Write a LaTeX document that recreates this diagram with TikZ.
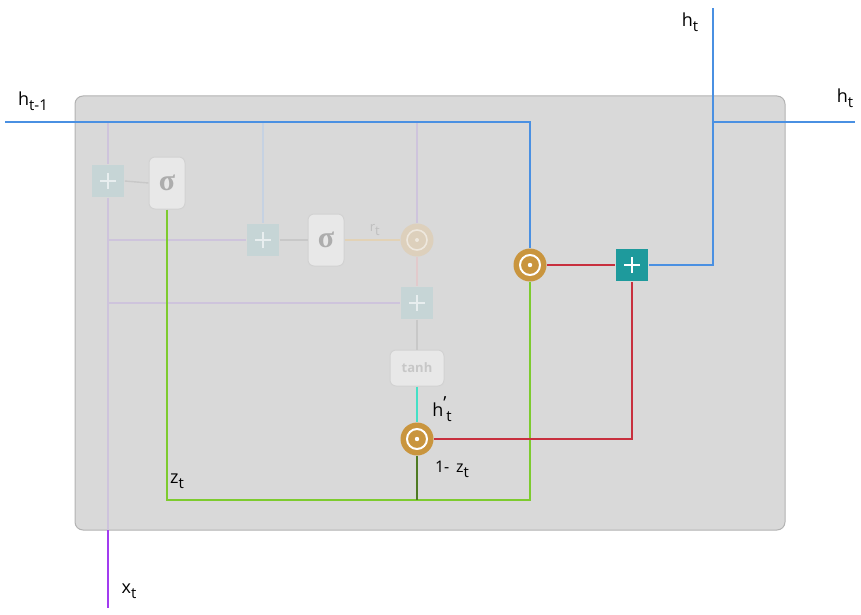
\documentclass[tikz,border=0pt]{standalone}
\usepackage{fontspec}
\setmainfont{Open Sans}
\newfontfamily\sigfont{Liberation Serif}
\usetikzlibrary{positioning}
\definecolor{cellgray}{HTML}{D9D9D9}
\definecolor{celledge}{HTML}{B2B2B2}
\definecolor{hblue}{HTML}{4A90E2}
\definecolor{xpurple}{HTML}{A23CF0}
\definecolor{zgreen}{HTML}{7DCB2E}
\definecolor{zdark}{HTML}{4E7A22}
\definecolor{rred}{HTML}{C8303E}
\definecolor{gold}{HTML}{C9953E}
\definecolor{opteal}{HTML}{1E9A9C}
\definecolor{hteal}{HTML}{44E0C6}
\definecolor{fadeteal}{HTML}{C6D5D6}
\definecolor{fadeblue}{HTML}{C6D2E2}
\definecolor{fadelav}{HTML}{CEC4DC}
\definecolor{fadeline}{HTML}{C8C8C8}
\definecolor{fadegold}{HTML}{DDD0BC}
\definecolor{fadeorange}{HTML}{E2D2B6}
\definecolor{fadepink}{HTML}{E2CACC}
\newcommand{\lsub}[1]{\raisebox{-5pt}{\fontsize{15}{15}\selectfont #1}}

\begin{document}
\begin{tikzpicture}[x=1pt, y=-1pt, line width=1.6pt,
  lbl/.style={font=\fontsize{18}{20}\selectfont, inner sep=1pt},
  plusbox/.style={shape=rectangle, minimum size=32pt, inner sep=0pt, fill=#1,
    path picture={\draw[white, line width=1.6pt]
      ([xshift=-8pt]path picture bounding box.center) -- ([xshift=8pt]path picture bounding box.center)
      ([yshift=-8pt]path picture bounding box.center) -- ([yshift=8pt]path picture bounding box.center);}},
  fplus/.style={plusbox=fadeteal, path picture={\draw[white!60!fadeteal, line width=1.4pt]
      ([xshift=-8pt]path picture bounding box.center) -- ([xshift=8pt]path picture bounding box.center)
      ([yshift=-8pt]path picture bounding box.center) -- ([yshift=8pt]path picture bounding box.center);}},
  odot/.style={shape=circle, minimum size=33pt, inner sep=0pt, fill=#1,
    path picture={\draw[white, line width=2pt] (path picture bounding box.center) circle (10pt);
      \fill[white] (path picture bounding box.center) circle (2.2pt);}},
  fodot/.style={shape=circle, minimum size=33pt, inner sep=0pt, fill=fadegold,
    path picture={\draw[white!50!fadegold, line width=1.6pt] (path picture bounding box.center) circle (10pt);
      \fill[white!50!fadegold] (path picture bounding box.center) circle (2pt);}},
  gatebox/.style={shape=rectangle, rounded corners=6pt, draw=fadeline!40!cellgray, line width=1pt,
    fill=cellgray!60!white, text=black!32, minimum width=36pt, minimum height=52pt,
    font=\fontsize{30}{30}\selectfont\sigfont\bfseries},
  fline/.style={line width=1.4pt, draw=#1}]
  \useasboundingbox (0,0) rectangle (861,615);

  % cell background
  \draw[fill=cellgray, draw=celledge, line width=1pt, rounded corners=8pt] (75,96) rectangle (785,530);

  % gates
  \node[fplus] (zadd) at (108,181) {};
  \node[gatebox] (zsig) at (167,183) {σ};
  \node[fplus] (radd) at (263,240) {};
  \node[gatebox] (rsig) at (326,240) {σ};
  \node[fodot] (rmul) at (417,240) {};
  \node[fplus] (cadd) at (417,303) {};
  \node[gatebox, minimum width=54pt, minimum height=36pt, font=\fontsize{13}{13}\selectfont\bfseries, text=black!22] (tanh) at (417,368) {tanh};
  \node[odot=gold] (cmul) at (417,439) {};
  \node[odot=gold] (hmul) at (530,265) {};
  \node[plusbox=opteal] (hadd) at (632,265) {};

  \coordinate (hin) at (5,122);
  \coordinate (xin) at (108,608);
  \coordinate (xtop) at (108,122);
  \coordinate (xcell) at (108,530);
  \coordinate (rtop) at (263,122);
  \coordinate (ctop) at (417,122);
  \coordinate (rrow) at (108,240);
  \coordinate (crow) at (108,303);
  \coordinate (zjoin) at (530,500);
  \coordinate (cjoin) at (417,500);
  \coordinate (hsplit) at (713,122);
  \coordinate (htop) at (713,8);
  \coordinate (hout) at (855,122);

  % faded paths of the cell
  \draw[fline=fadelav] (xtop) -- (zadd) -- (xcell);
  \draw[fline=fadelav] (rrow) -- (radd.west);
  \draw[fline=fadelav] (crow) -- (cadd.west);
  \draw[fline=fadeblue] (rtop) -- (radd.north);
  \draw[fline=fadelav] (ctop) -- (rmul.north);
  \draw[fline=fadeline] (zadd.east) -- (zsig.west);
  \draw[fline=fadeline] (radd.east) -- (rsig.west);
  \draw[fline=fadeorange] (rsig.east) -- node[above, pos=0.55, text=black!25, font=\fontsize{13}{13}\selectfont] (rlbl) {r\raisebox{-4pt}{t}} (rmul.west);
  \draw[fline=fadepink] (rmul.south) -- (cadd.north);
  \draw[fline=fadeline] (cadd.south) -- (tanh.north);

  % active paths
  \draw[xpurple] (xcell) -- (xin);
  \draw[hblue] (hin) -| (hmul.north);
  \draw[hteal] (tanh.south) -- (cmul.north);
  \draw[zgreen] (zsig.south) |- (zjoin) -- (hmul.south);
  \draw[zdark] (cmul.south) -- (cjoin);
  \draw[rred] (cmul.east) -| (hadd.south);
  \draw[rred] (hmul.east) -- (hadd.west);
  \draw[hblue] (hadd.east) -| (htop);
  \draw[hblue] (hsplit) -- (hout);

  % labels
  \node[lbl] (lhin) at (33,101) {h\lsub{t-1}};
  \node[lbl] (lhtop) at (690,22) {h\lsub{t}};
  \node[lbl] (lhout) at (845,98) {h\lsub{t}};
  \node[lbl] (lxt) at (129,591) {x\lsub{t}};
  \node[lbl] (lzt) at (177,481) {z\lsub{t}};
  \node[lbl] (lhc) at (442,409) {h\rlap{\raisebox{7pt}{’}}\,\lsub{t}};
  \node[lbl, font=\fontsize{16}{18}\selectfont] (lcz) at (452,469) {1-\, z\lsub{t}};
\end{tikzpicture}
\end{document}
